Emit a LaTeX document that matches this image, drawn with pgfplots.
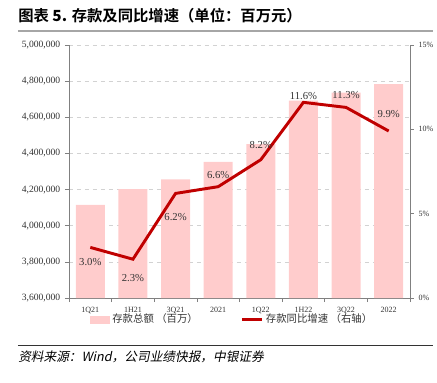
\documentclass[border=0pt]{standalone}
\usepackage{pgfplots}
\pgfplotsset{compat=1.18}
\usepackage{pgfplotstable}
\usepackage{fontspec}
\setmainfont{Liberation Serif}
\newfontfamily\cjk{Noto Sans CJK SC}
\newfontfamily\cjkb{Noto Sans CJK SC Bold}
\newfontfamily\cjki[FakeSlant=0.2]{Noto Sans CJK SC}
\definecolor{barpink}{HTML}{FFCCCC}
\definecolor{linered}{HTML}{C00000}
\definecolor{txt}{HTML}{333333}
\pgfplotstableread{
x dep
0 4115000
1 4203000
2 4257000
3 4353000
4 4452000
5 4692000
6 4736000
7 4784000
}\deposits
\pgfplotstableread{
x g off
0 3.0 -11
1 2.3 -14
2 6.2 -18
3 6.6 9
4 8.2 11
5 11.6 5
6 11.3 9
7 9.9 13
}\growth
\begin{document}
\begin{tikzpicture}
\path[use as bounding box] (0pt,0pt) rectangle (327.75pt,-287.25pt);
% title
\node[anchor=west,inner sep=0pt] at (13.5pt,-12pt) {\fontsize{11.5}{13}\selectfont\cjkb 图表 \textbf{5.} 存款及同比增速（单位：百万元）};
\draw[gray!70,line width=1.5pt] (13.5pt,-23.5pt) -- (325pt,-23.5pt);
% footer
\draw[black!80,line width=0.6pt] (13.5pt,-259pt) -- (325pt,-259pt);
\node[anchor=west,inner sep=0pt] at (13.5pt,-268pt) {\fontsize{9.5}{11}\selectfont\cjki 资料来源：\textit{Wind}，公司业绩快报，中银证券};
\begin{axis}[
  at={(51.75pt,-223.5pt)}, anchor=south west,
  scale only axis, width=255.75pt, height=189.75pt,
  xmin=-0.5, xmax=7.5,
  ymin=3600000, ymax=5000000,
  ytick={3600000,3800000,...,5000000},
  scaled y ticks=false,
  yticklabel style={/pgf/number format/fixed, /pgf/number format/1000 sep={,}, /pgf/number format/assume math mode=true, font=\fontsize{7.2}{8}\selectfont, color=txt},
  axis x line*=bottom, axis y line*=left,
  axis line style={gray, line width=0.6pt},
  ymajorgrids, grid style={dashed, gray!35, line width=0.5pt},
  xtick={0,...,7},
  xticklabels={1Q21,1H21,3Q21,2021,1Q22,1H22,3Q22,2022},
  xticklabel style={font=\fontsize{6}{7}\selectfont, color=txt},
  major x tick style={draw=none},
  minor xtick={-0.5,0.5,...,7.5},
  minor x tick style={gray, line width=0.5pt},
  tick align=outside,
  major tick length=3pt, minor tick length=3pt,
  ytick style={gray, line width=0.5pt},
  ]
\addplot[ybar, bar width=21.75pt, fill=barpink, draw=none] table[x=x,y=dep]{\deposits};
\end{axis}
\begin{axis}[
  at={(51.75pt,-223.5pt)}, anchor=south west,
  scale only axis, width=255.75pt, height=189.75pt,
  xmin=-0.5, xmax=7.5,
  ymin=0, ymax=15,
  ytick={0,5,10,15},
  yticklabel={\pgfmathprintnumber{\tick}\%},
  yticklabel style={font=\fontsize{6}{7}\selectfont, color=txt, /pgf/number format/assume math mode=true},
  axis x line=none, axis y line*=right,
  axis line style={gray, line width=0.6pt},
  ytick style={gray, line width=0.5pt},
  tick align=outside, major tick length=3pt,
  legend style={at={(0.48,-0.085)}, anchor=center, draw=none, fill=none,
    legend columns=2, font=\fontsize{7.8}{9}\selectfont\cjk\color{txt},
    /tikz/every even column/.append style={column sep=30pt}},
  ]
\addlegendimage{legend image code/.code={\fill[barpink] (0pt,-2.5pt) rectangle (14pt,2.5pt);}}
\addlegendentry{存款总额 （百万）}
\addplot[linered, line width=2.2pt, mark=none,
  point meta=y,
  visualization depends on={\thisrow{off} \as \off},
  nodes near coords={\pgfmathprintnumber[fixed,fixed zerofill,precision=1]{\pgfplotspointmeta}\%},
  every node near coord/.append style={anchor=center, yshift=\off pt, font=\fontsize{8}{9}\selectfont, text=txt, /pgf/number format/assume math mode=true},
  legend image code/.code={\draw[linered, line width=2pt] (0pt,0pt) -- (15pt,0pt);}
  ] table[x=x,y=g]{\growth};
\addlegendentry{存款同比增速 （右轴）}
\end{axis}
\end{tikzpicture}
\end{document}
